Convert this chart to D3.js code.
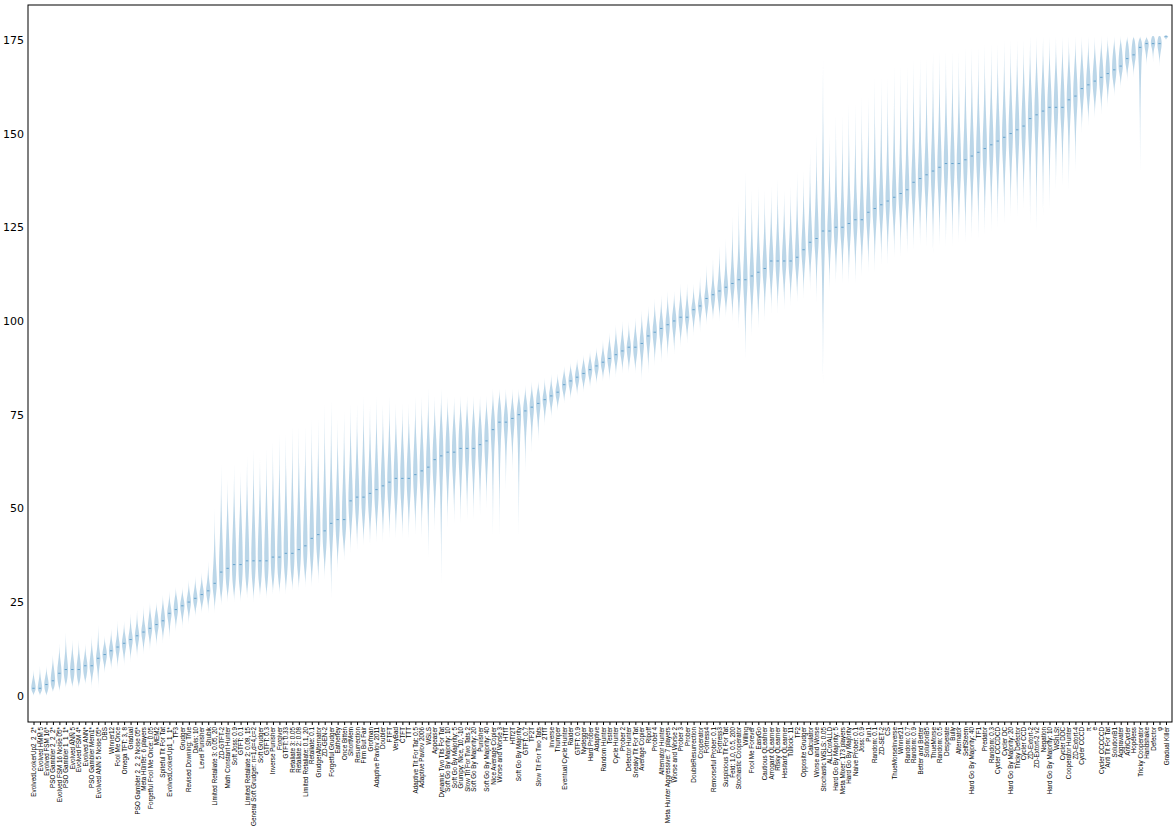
<!DOCTYPE html>
<html>
<head>
<meta charset="utf-8">
<script src="https://cdn.jsdelivr.net/npm/d3@7"></script>
<style>
  body { margin: 0; background: #fff; }
  svg { display: block; font-family: "DejaVu Sans", sans-serif; }
</style>
</head>
<body>
<svg id="chart" width="1176" height="832"></svg>
<script>
const strategies = [
  "EvolvedLookerUp2_2_2*", "Evolved HMM 5", "Evolved FSM 16*", "PSO Gambler 2_2_2*",
  "Evolved FSM 16 Noise 05*", "PSO Gambler 1_1_1*", "Evolved ANN 5", "Evolved FSM 4*",
  "Evolved ANN*", "PSO Gambler Mem1*", "Evolved ANN 5 Noise 05*", "DBS", "Winner12",
  "Fool Me Once", "Omega TFT: 3, 8", "Gradual", "PSO Gambler 2_2_2 Noise 05*",
  "Meta Hunter: 6 players", "Forgetful Fool Me Once: 0.05", "MEM2", "Spiteful Tit For Tat",
  "EvolvedLookerUp1_1_1*", "TF3", "Grudger", "Revised Downing: True", "Davis: 10",
  "Level Punisher", "Shubik", "Limited Retaliate 3: 0.05, 20", "ZD-GTFT-2",
  "Math Constant Hunter", "Soft Joss: 0.9", "GTFT: 0.1", "Limited Retaliate 2: 0.08, 15",
  "General Soft Grudger: n=1,d=4,c=2", "Soft Grudger", "GTFT: 0.3", "Inverse Punisher",
  "Forgiver", "GTFT: 0.33", "Retaliate 3: 0.05", "Retaliate 2: 0.08",
  "Limited Retaliate: 0.1, 20", "Retaliate: 0.1", "GrudgerAlternator", "ZD-GEN-2",
  "Forgetful Grudger", "Eatherley", "Once Bitten", "ShortMem", "Resurrection",
  "Firm But Fair", "Grofman", "Adaptive Pavlov 2011", "Doubler", "FTFT", "VeryBad",
  "CTFT", "TTT", "Adaptive Tit For Tat: 0.5", "Adaptive Pavlov 2006", "WSLS", "Appeaser",
  "Dynamic Two Tits For Tat", "Soft Go By Majority: 10", "Soft Go By Majority: 5",
  "Grumpy: Nice, 10, -10", "Slow Tit For Two Tats 2", "Soft Go By Majority: 20",
  "Punisher", "Soft Go By Majority: 40", "Nice Average Copier", "Worse and Worse 3",
  "HTfT", "HTf2T", "Soft Go By Majority", "GTFT: 0.7", "TF2T", "Slow Tit For Two Tats",
  "2TfT", "Inverse", "Thumper", "Eventual Cycle Hunter", "Raider", "GTFT: 0.9",
  "Nydegger", "Hard Prober", "Adaptive", "Random Hunter", "Tester", "Cycle Hunter",
  "Prober 2", "Defector Hunter", "Sneaky Tit For Tat", "Average Copier", "Ripoff",
  "Prober 4", "Alternator Hunter", "Meta Hunter Aggressive: 7 players",
  "Worse and Worse 2", "Prober 3", "Prober", "DoubleResurrection", "Cooperator",
  "Fortress4", "Remorseful Prober: 0.1", "Fortress3", "Suspicious Tit For Tat",
  "Feld: 1.0, 0.5, 200", "Stochastic Cooperator", "Willing", "Fool Me Forever", "EasyGo",
  "Cautious QLearner", "Arrogant QLearner", "Risky QLearner", "Hesitant QLearner",
  "Tullock: 11", "TF2", "Opposite Grudger", "Calculator", "Worse and Worse",
  "Stochastic WSLS: 0.05", "ALLCorALLD", "Hard Go By Majority: 5",
  "Meta Mixer: 173 players", "Hard Go By Majority", "Naive Prober: 0.1", "Joss: 0.9",
  "Pun1", "Random: 0.1", "ZD-SET-2", "CS", "ThueMorseInverse", "Winner21", "Random: 0.7",
  "Random: 0.9", "Better and Better", "SolutionB5", "ThueMorse", "Random: 0.5",
  "Desperate", "Bully", "Alternator", "SelfSteem", "Hard Go By Majority: 40", "TF1",
  "Predator", "Random: 0.3", "Cycler CCCDCD", "Cycler DC", "Hard Go By Majority: 20",
  "Tricky Defector", "Cycler CCD", "ZD-Extort-2", "ZD-Extort-2 v2", "Negation",
  "Hard Go By Majority: 10", "WShLSt", "Cycler DDC", "Cooperator Hunter", "ZD-Extort-4",
  "Cycler CCCD", "\u03c0", "e", "Cycler CCCCCD", "Anti Tit For Tat", "SolutionB1",
  "Aggravater", "AntiCycler", "Hopeless", "Tricky Cooperator", "Handshake", "Defector",
  "\u03c6", "Gradual Killer"
];

// rank distribution summaries per strategy
const rankMedian = [
  2, 2, 3, 4, 6, 7, 7, 7, 8, 8, 10, 11, 12, 13, 14, 15, 16, 17, 18, 19,
  20, 22, 23, 24, 25, 26, 27, 28, 30, 33, 34, 35, 35, 36, 36, 36, 36, 37, 37, 38,
  38, 39, 40, 42, 43, 44, 46, 47, 47, 52, 53, 53, 54, 55, 56, 57, 58, 58, 58, 59,
  60, 61, 63, 64, 65, 65, 66, 66, 66, 67, 68, 71, 73, 73, 74, 75, 76, 77, 78, 79,
  80, 81, 83, 84, 85, 86, 87, 88, 89, 90, 91, 92, 93, 93, 94, 96, 97, 98, 99, 100,
  101, 101, 103, 104, 106, 107, 108, 109, 110, 111, 111, 112, 113, 114, 116, 116, 116, 116, 117, 119,
  121, 122, 124, 124, 125, 125, 126, 127, 127, 129, 130, 131, 132, 133, 134, 135, 137, 138, 139, 140,
  141, 142, 142, 142, 143, 144, 145, 146, 147, 148, 149, 150, 151, 152, 154, 155, 156, 157, 157, 157,
  159, 160, 162, 163, 164, 165, 166, 167, 168, 170, 171, 173, 174, 174, 174, 176
];
const rankMin = [
  0, 0, 0, 1, 1, 2, 2, 2, 3, 2, 2, 6, 7, 7, 8, 9, 10, 11, 12, 13,
  14, 15, 17, 18, 19, 21, 22, 22, 22, 24, 25, 25, 25, 26, 25, 26, 26, 27, 27, 27,
  28, 28, 29, 29, 30, 31, 26, 33, 36, 38, 39, 40, 40, 41, 41, 42, 42, 42, 42, 43,
  42, 37, 44, 30, 45, 46, 46, 47, 47, 48, 50, 43, 43, 55, 60, 43, 60, 65, 68, 72,
  74, 76, 78, 79, 80, 81, 82, 83, 84, 84, 85, 86, 86, 86, 84, 86, 88, 89, 90, 91,
  93, 94, 96, 97, 99, 100, 100, 101, 100, 98, 90, 96, 98, 100, 102, 102, 103, 104, 105, 106,
  108, 105, 83, 108, 110, 110, 110, 110, 112, 113, 113, 115, 115, 117, 117, 118, 119, 120, 120, 118,
  120, 120, 120, 121, 121, 122, 122, 123, 124, 125, 126, 128, 128, 130, 126, 124, 128, 130, 135, 136,
  135, 140, 150, 152, 154, 155, 157, 160, 162, 164, 165, 140, 168, 169, 168, 175
];
const rankQ1 = [
  1, 1, 1, 2, 3, 4, 4, 4, 5, 6, 8, 9, 10, 11, 12, 13, 14, 15, 16, 17,
  18, 20, 21, 22, 23, 24, 25, 26, 27, 28, 29, 29, 29, 30, 30, 30, 30, 31, 31, 32,
  32, 33, 34, 35, 37, 38, 40, 41, 42, 46, 47, 47, 48, 49, 50, 51, 51, 51, 52, 53,
  54, 55, 56, 57, 58, 58, 59, 60, 60, 61, 62, 66, 68, 69, 70, 70, 72, 74, 75, 77,
  78, 79, 81, 82, 83, 84, 85, 86, 87, 88, 89, 90, 90, 90, 91, 93, 94, 95, 96, 97,
  98, 99, 101, 102, 103, 104, 105, 106, 107, 107, 106, 107, 108, 110, 111, 111, 112, 112, 113, 115,
  117, 118, 116, 119, 120, 121, 121, 122, 122, 124, 125, 126, 127, 128, 129, 130, 131, 132, 133, 133,
  134, 135, 135, 135, 136, 137, 138, 139, 140, 141, 142, 143, 144, 145, 147, 148, 149, 150, 151, 152,
  154, 155, 158, 159, 160, 161, 163, 164, 166, 168, 169, 170, 172, 173, 172, 175.5
];
const rankQ3 = [
  4, 4, 5, 7, 9, 10, 10, 10, 10, 11, 12, 13, 14, 15, 16, 17, 18, 19, 21, 22,
  23, 24, 26, 26, 27, 28, 29, 30, 35, 42, 44, 45, 46, 46, 47, 47, 47, 48, 48, 49,
  50, 50, 51, 52, 53, 54, 55, 56, 57, 60, 61, 62, 62, 63, 64, 65, 66, 66, 66, 67,
  68, 69, 70, 72, 72, 72, 73, 73, 73, 73, 74, 76, 78, 77, 77, 78, 79, 80, 81, 81,
  82, 83, 85, 86, 87, 88, 89, 90, 91, 93, 94, 95, 95, 96, 97, 99, 100, 101, 102, 103,
  104, 104, 105, 106, 108, 109, 111, 112, 114, 115, 118, 118, 119, 120, 121, 122, 122, 122, 123, 125,
  127, 130, 134, 130, 131, 132, 133, 133, 134, 136, 137, 138, 139, 140, 141, 142, 144, 145, 146, 148,
  149, 150, 150, 150, 151, 152, 153, 154, 155, 156, 157, 158, 159, 160, 162, 163, 164, 164, 165, 165,
  166, 167, 168, 168, 169, 170, 171, 172, 173, 174, 175, 175, 175, 176, 176, 176
];
const rankMax = [
  7, 8, 8, 11, 14, 17, 15, 15, 14, 16, 19, 16, 18, 20, 20, 22, 23, 24, 25, 25,
  27, 28, 29, 29, 31, 32, 33, 36, 50, 62, 58, 62, 60, 64, 66, 64, 66, 68, 70, 70,
  72, 72, 72, 74, 74, 78, 79, 74, 76, 78, 78, 80, 78, 80, 78, 80, 78, 78, 78, 80,
  80, 82, 80, 82, 80, 80, 80, 80, 80, 80, 80, 82, 82, 82, 82, 82, 83, 84, 84, 85,
  86, 86, 88, 89, 90, 91, 92, 93, 95, 97, 99, 100, 100, 101, 103, 104, 106, 107, 108, 108,
  110, 110, 110, 112, 115, 117, 120, 122, 128, 132, 140, 135, 136, 135, 136, 138, 135, 136, 140, 140,
  145, 150, 170, 150, 155, 155, 158, 158, 160, 160, 165, 165, 165, 168, 168, 168, 170, 170, 170, 172,
  172, 172, 172, 172, 173, 173, 173, 174, 174, 174, 175, 175, 175, 175, 176, 176, 176, 176, 176, 176,
  176, 176, 176, 176, 176, 176, 176, 176, 176, 176, 176, 176, 176, 176, 176, 176
];
const yTicks = [0, 25, 50, 75, 100, 125, 150, 175];

const svg = d3.select("#chart");
const mLeft = 28, mRight = 1172, mTop = 5, mBottom = 722;

const x = d3.scalePoint().domain(strategies).range([33.5, 1166]);
const y = d3.scaleLinear().domain([-7, 184.3]).range([mBottom, mTop]);
const halfW = 2.7;

const rows = strategies.map((s, i) => ({
  name: s, med: rankMedian[i], lo: rankMin[i], q1: rankQ1[i], q3: rankQ3[i], hi: rankMax[i]
}));

const g = svg.append("g");

// violins
rows.forEach(d => {
  const cx = x(d.name);
  const prof = [
    [d.lo, 0], [(d.lo + d.q1) / 2, 0.06], [d.q1, 0.45], [d.med, 1],
    [d.q3, 0.45], [(d.q3 + d.hi) / 2, 0.06], [d.hi, 0]
  ];
  const area = d3.area()
    .y(p => y(p[0]))
    .x0(p => cx - halfW * p[1])
    .x1(p => cx + halfW * p[1])
    .curve(d3.curveBasis);
  g.append("path")
    .attr("d", area(prof))
    .attr("fill", "#1f77b4")
    .attr("fill-opacity", 0.3);
});

// medians
g.selectAll("line.med").data(rows).join("line")
  .attr("class", "med")
  .attr("x1", d => x(d.name) - 1.2).attr("x2", d => x(d.name) + 1.2)
  .attr("y1", d => y(d.med)).attr("y2", d => y(d.med))
  .attr("stroke", "#1f77b4").attr("stroke-opacity", 0.55);

// axes
const yAxis = d3.axisLeft(y).tickValues(yTicks).tickSize(0).tickPadding(4);
svg.append("g")
  .attr("transform", `translate(${mLeft},0)`)
  .call(yAxis)
  .call(a => a.select(".domain").remove())
  .call(a => a.selectAll("text").attr("font-size", 11).attr("font-family", "DejaVu Sans"));

const xAxis = d3.axisBottom(x).tickSize(3).tickPadding(2);
svg.append("g")
  .attr("transform", `translate(0,${mBottom})`)
  .call(xAxis)
  .call(a => a.select(".domain").remove())
  .call(a => a.selectAll("text")
    .attr("font-size", 6.3)
    .attr("font-family", "Liberation Sans")
    .attr("transform", "rotate(-90)")
    .attr("text-anchor", "end")
    .attr("x", -5)
    .attr("y", 0)
    .attr("dy", "0.32em"));

svg.append("rect")
  .attr("x", mLeft).attr("y", mTop)
  .attr("width", mRight - mLeft).attr("height", mBottom - mTop)
  .attr("fill", "none").attr("stroke", "#000").attr("stroke-width", 1);
</script>
</body>
</html>
